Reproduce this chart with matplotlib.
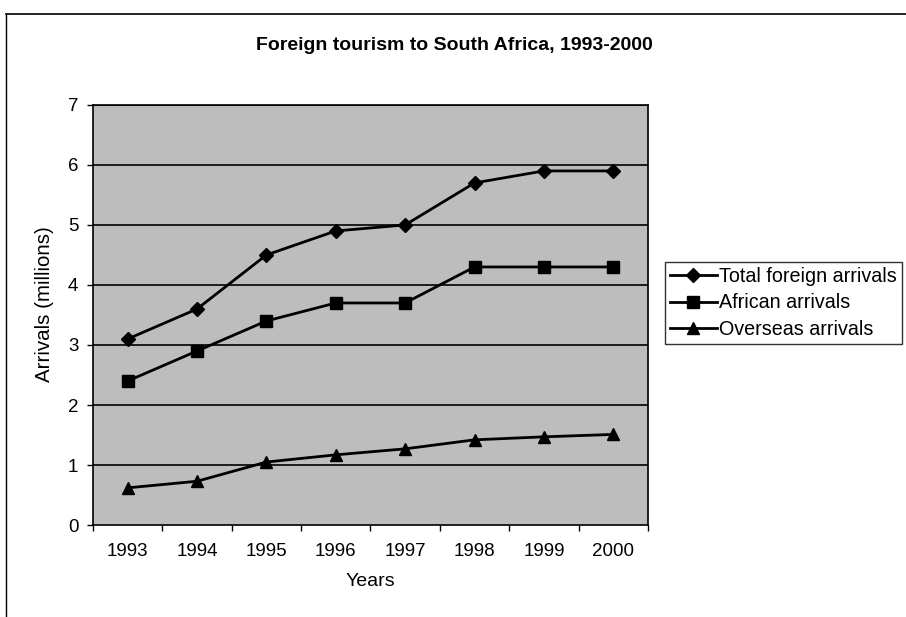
import numpy as np
import matplotlib
matplotlib.use('Agg')
import matplotlib.pyplot as plt
from matplotlib.lines import Line2D

plt.rcParams['font.family'] = ['Liberation Sans', 'DejaVu Sans']

# data
years = ['1993', '1994', '1995', '1996', '1997', '1998', '1999', '2000']
total_arrivals = [3.1, 3.6, 4.5, 4.9, 5.0, 5.7, 5.9, 5.9]
african_arrivals = [2.4, 2.9, 3.4, 3.7, 3.7, 4.3, 4.3, 4.3]
overseas_arrivals = [0.62, 0.73, 1.05, 1.17, 1.27, 1.42, 1.47, 1.51]
series_labels = ['Total foreign arrivals', 'African arrivals', 'Overseas arrivals']
y_ticks = [0, 1, 2, 3, 4, 5, 6, 7]

fig = plt.figure(figsize=(9.06, 6.17), dpi=100)
ax = fig.add_axes([0.1026, 0.149, 0.6126, 0.681])

# figure border (top and left visible in the scan)
fig.add_artist(Line2D([0.007, 1.0], [0.978, 0.978], color='black', lw=1.2, transform=fig.transFigure))
fig.add_artist(Line2D([0.007, 0.007], [0.0, 0.978], color='black', lw=1.0, transform=fig.transFigure))

x = np.arange(len(years))
ax.set_facecolor('#bdbdbd')
for yv in y_ticks[1:]:
    ax.axhline(yv, color='black', lw=1.2, zorder=1)

ax.plot(x, total_arrivals, color='black', lw=2, marker='D', ms=7, label=series_labels[0], zorder=3)
ax.plot(x, african_arrivals, color='black', lw=2, marker='s', ms=8, label=series_labels[1], zorder=3)
ax.plot(x, overseas_arrivals, color='black', lw=2, marker='^', ms=9, label=series_labels[2], zorder=3)

ax.set_xlim(-0.5, len(years) - 0.5)
ax.set_ylim(0, 7)
ax.set_yticks(y_ticks)
ax.set_xticks(x)
ax.set_xticklabels(years)
ax.set_xticks(np.arange(-0.5, len(years)), minor=True)
ax.tick_params(axis='x', which='major', length=0, pad=13, labelsize=13.5)
ax.tick_params(axis='x', which='minor', length=4.5, width=1, direction='out')
ax.tick_params(axis='y', length=4.5, width=1, labelsize=13.5, pad=6)
for sp in ax.spines.values():
    sp.set_linewidth(1.2)

ax.set_xlabel('Years', fontsize=14, labelpad=9)
ax.set_ylabel('Arrivals (millions)', fontsize=14.8)
ax.yaxis.set_label_coords(-0.07, 0.526)
fig.text(0.501, 0.926, 'Foreign tourism to South Africa, 1993-2000',
         ha='center', va='center', fontsize=14, fontweight='bold')

leg = ax.legend(loc='upper left', bbox_to_anchor=(1.03, 0.627), fontsize=14.2,
                frameon=True, fancybox=False, edgecolor='black', handlelength=2.4,
                handletextpad=0.1, borderpad=0.25, labelspacing=0.4, borderaxespad=0)
leg.get_frame().set_linewidth(1.0)

fig.savefig('out.png', dpi=100)
